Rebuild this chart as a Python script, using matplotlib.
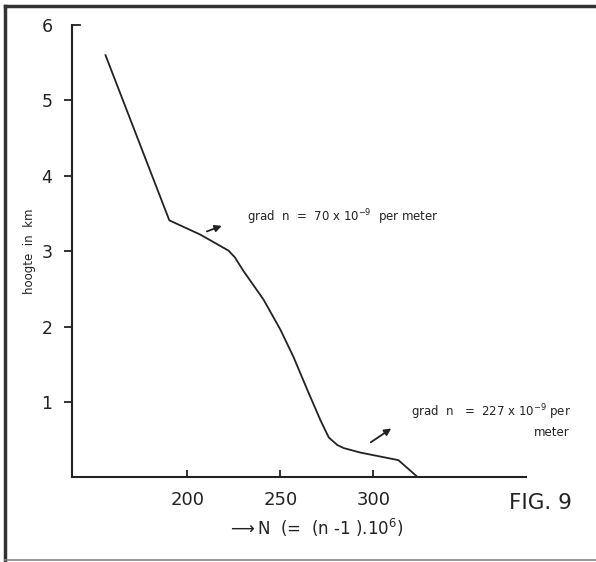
import matplotlib.pyplot as plt
from matplotlib.lines import Line2D

# refractivity profile: N (= (n-1).10^6) against height in km
N_vals = [156, 190.3, 207, 222, 225.5, 230.1, 240.9, 250, 257, 264.5, 271.5, 276, 280.6, 284, 293, 313.4, 324]
h_vals = [5.60, 3.41, 3.22, 3.01, 2.92, 2.74, 2.36, 1.96, 1.60, 1.16, 0.76, 0.53, 0.43, 0.39, 0.33, 0.23, 0.0]

x_ticks = [200, 250, 300]
y_ticks = [1, 2, 3, 4, 5, 6]

plt.rcParams['font.family'] = 'DejaVu Sans'

fig = plt.figure(figsize=(5.96, 5.62), dpi=100)
ax = fig.add_axes([0.1208, 0.1504, 0.7618, 0.8051])

ax.plot(N_vals, h_vals, color='#222222', linewidth=1.3, solid_joinstyle='round')

ax.set_xlim(138, 382)
ax.set_ylim(0, 6)
ax.spines['top'].set_visible(False)
ax.spines['right'].set_visible(False)
ax.spines['left'].set_linewidth(1.5)
ax.spines['bottom'].set_linewidth(1.5)
ax.spines['left'].set_color('#222222')
ax.spines['bottom'].set_color('#222222')

ax.set_xticks(x_ticks)
ax.set_yticks(y_ticks)
ax.tick_params(axis='x', direction='in', length=5, width=1.3, pad=10, labelsize=13, colors='#222222')
ax.tick_params(axis='y', direction='out', length=6, width=1.3, pad=8, labelsize=12.5, colors='#222222')
# the top of the height axis gets a cap pointing right instead of a tick
ax.yaxis.get_major_ticks()[-1].tick1line.set_visible(False)
ax.plot([0, 0.018], [1, 1], transform=ax.transAxes, color='#222222', linewidth=1.3, clip_on=False)

ax.set_ylabel('hoogte  in  km', fontsize=8.5, labelpad=4, color='#222222')
fig.text(0.381, 0.0605, r'$\longrightarrow$N  (=  (n -1 ).10$^6$)', fontsize=12, color='#222222',
         ha='left', va='center')

# gradient annotations
ax.annotate('', xy=(219.9, 3.35), xytext=(209.1, 3.25),
            arrowprops=dict(arrowstyle='-|>', color='#222222', lw=1.3, mutation_scale=10))
ax.text(232.3, 3.45, r'grad  n  =  70 x 10$^{-9}$  per meter', fontsize=8.5, color='#222222',
        ha='left', va='center')
ax.annotate('', xy=(310.8, 0.67), xytext=(297.3, 0.445),
            arrowprops=dict(arrowstyle='-|>', color='#222222', lw=1.3, mutation_scale=10))
ax.text(320, 0.87, r'grad  n   =  227 x 10$^{-9}$ per', fontsize=8.5, color='#222222',
        ha='left', va='center')
ax.text(396, 0.60, 'meter', fontsize=8.5, color='#222222', ha='center', va='center')

fig.text(0.906, 0.105, 'FIG. 9', fontsize=15.5, color='#222222', ha='center', va='center')

# outer frame of the figure sheet
fig.add_artist(Line2D([0.009, 0.009], [0.004, 0.99], color='#333333', linewidth=2.5))
fig.add_artist(Line2D([0.009, 1.0], [0.99, 0.99], color='#333333', linewidth=2.5))
fig.add_artist(Line2D([0.009, 1.0], [0.004, 0.004], color='#888888', linewidth=1.2))

fig.savefig('out.png', dpi=100, facecolor='white')
